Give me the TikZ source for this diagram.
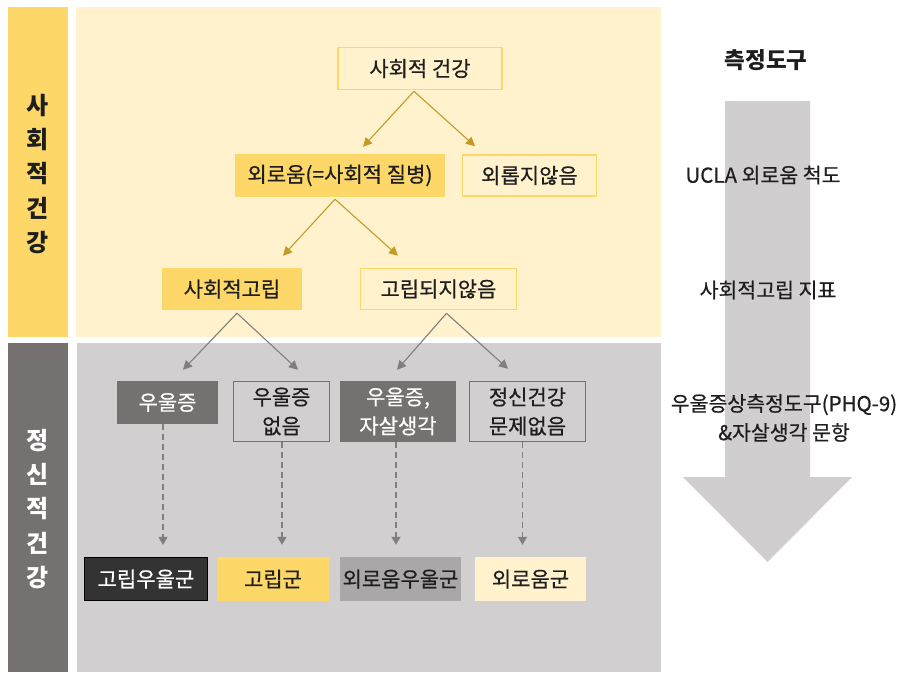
\documentclass[tikz,border=0pt]{standalone}
\usepackage{fontspec}
\setmainfont{Noto Sans CJK KR}
\newfontfamily\krmed[FakeBold=0.5]{Noto Sans CJK KR}
\usetikzlibrary{arrows.meta}
\definecolor{yel}{HTML}{FDD868}
\definecolor{ylight}{HTML}{FFF2CC}
\definecolor{glight}{HTML}{D1CFCF}
\definecolor{gdark}{HTML}{767171}
\definecolor{gold}{HTML}{C49A22}
\definecolor{garr}{HTML}{7F7F7F}
\definecolor{bigarr}{HTML}{D0CECF}
\definecolor{ink}{HTML}{1E1E1E}
\definecolor{gmid}{HTML}{A9A7A7}
\definecolor{gblack}{HTML}{333333}
\tikzset{
  box/.style={rectangle, inner sep=0pt, align=center, text=ink,
    font=\krmed\fontsize{21}{29}\selectfont},
  yout/.style={box, draw=yel, line width=1.6pt},
  yfill/.style={box, fill=yel},
  gout/.style={box, draw=gdark, line width=1.4pt},
  gfill/.style={box, fill=gdark, text=white},
  goldarrow/.style={draw=gold, line width=1.1pt, -{Triangle[length=9pt,width=9pt]}},
  greyarrow/.style={draw=garr, line width=1.1pt, -{Triangle[length=9pt,width=9pt]}},
  dasharrow/.style={draw=garr, line width=1.3pt, dash pattern=on 6pt off 4pt,
    -{Triangle[length=8pt,width=9pt]}, shorten >=12pt},
  bandtext/.style={align=center, font=\bfseries\fontsize{24}{34.4}\selectfont},
  tooltext/.style={align=center, text=ink, font=\krmed\fontsize{20.5}{29}\selectfont}
}
\begin{document}
\begin{tikzpicture}[x=1pt,y=-1pt]
\useasboundingbox (0,0) rectangle (902,672);
\fill[white] (0,0) rectangle (902,672);
% backgrounds
\fill[yel] (8,7) rectangle (68,337);
\fill[ylight] (76,7) rectangle (661,337);
\fill[gdark] (8,343) rectangle (68,672);
\fill[glight] (77,343) rectangle (661,672);
\node[bandtext, text=ink] (bandA) at (38,174) {사\\회\\적\\건\\강};
\node[bandtext, text=white] (bandB) at (38,509) {정\\신\\적\\건\\강};
% big arrow
\fill[bigarr] (725,101) -- (810,101) -- (810,477) -- (852,477) -- (767.5,562) -- (683,477) -- (725,477) -- cycle;
\node[font=\bfseries\fontsize{22.5}{26}\selectfont, text=ink] (tools) at (766,60) {측정도구};
\node[tooltext] (t1) at (763,175) {UCLA 외로움 척도};
\node[tooltext] (t2) at (768,290) {사회적고립 지표};
\node[tooltext] (t3) at (784,418) {우울증상측정도구(PHQ-9)\\\&자살생각 문항};
% nodes
\node[yout, minimum width=164pt, minimum height=42pt] (hs) at (420,68.5) {사회적 건강};
\node[yfill, minimum width=210pt, minimum height=43pt] (lone) at (340,175.5) {외로움(=사회적 질병)};
\node[yout, minimum width=134pt, minimum height=41pt] (notlone) at (529.5,175.5) {외롭지않음};
\node[yfill, minimum width=140pt, minimum height=42pt] (iso) at (232,289) {사회적고립};
\node[yout, minimum width=156pt, minimum height=41pt] (notiso) at (438.5,289) {고립되지않음};
\node[gfill, minimum width=101pt, minimum height=43pt] (dep) at (167.5,402.5) {우울증};
\node[gout, minimum width=96pt, minimum height=60pt] (nodep) at (281.5,411.5) {우울증\\없음};
\node[gfill, minimum width=116pt, minimum height=61pt] (depsui) at (398,411.5) {우울증,\\자살생각};
\node[gout, minimum width=116pt, minimum height=60pt] (mh) at (527.5,411.5) {정신건강\\문제없음};
\node[box, fill=gblack, draw=black, line width=1.2pt, text=white, minimum width=123pt, minimum height=43pt] (g1) at (146,579) {고립우울군};
\node[box, fill=yel, minimum width=112pt, minimum height=44pt] (g2) at (273,579) {고립군};
\node[box, fill=gmid, minimum width=121pt, minimum height=44pt] (g3) at (400.5,579) {외로움우울군};
\node[box, fill=ylight, minimum width=111pt, minimum height=44pt] (g4) at (530.5,579) {외로움군};
% connectors
\draw[goldarrow] ([xshift=-6pt,yshift=-1pt]hs.south) -- ([xshift=23pt,yshift=7pt]lone.north);
\draw[goldarrow] ([xshift=-6pt,yshift=-1pt]hs.south) -- ([xshift=-54.5pt,yshift=8pt]notlone.north);
\draw[goldarrow] ([xshift=-5pt,yshift=-2pt]lone.south) -- ([xshift=51pt,yshift=12pt]iso.north);
\draw[goldarrow] ([xshift=-5pt,yshift=-2pt]lone.south) -- ([xshift=-40.5pt,yshift=12pt]notiso.north);
\draw[greyarrow] ([xshift=5pt,yshift=-3pt]iso.south) -- ([xshift=15.5pt,yshift=11pt]dep.north);
\draw[greyarrow] ([xshift=5pt,yshift=-3pt]iso.south) -- ([xshift=16.5pt,yshift=11pt]nodep.north);
\draw[greyarrow] ([xshift=8pt,yshift=-3pt]notiso.south) -- ([xshift=-1pt,yshift=11pt]depsui.north);
\draw[greyarrow] ([xshift=8pt,yshift=-3pt]notiso.south) -- ([xshift=-19.5pt,yshift=12pt]mh.north);
\draw[dasharrow] ([xshift=-4.5pt]dep.south) -- ([xshift=-4.5pt]dep.south |- g1.north);
\draw[dasharrow] ([xshift=0.5pt]nodep.south) -- ([xshift=0.5pt]nodep.south |- g2.north);
\draw[dasharrow] ([xshift=-2pt]depsui.south) -- ([xshift=-2pt]depsui.south |- g3.north);
\draw[dasharrow] ([xshift=-5pt]mh.south) -- ([xshift=-5pt]mh.south |- g4.north);
\end{tikzpicture}
\end{document}
